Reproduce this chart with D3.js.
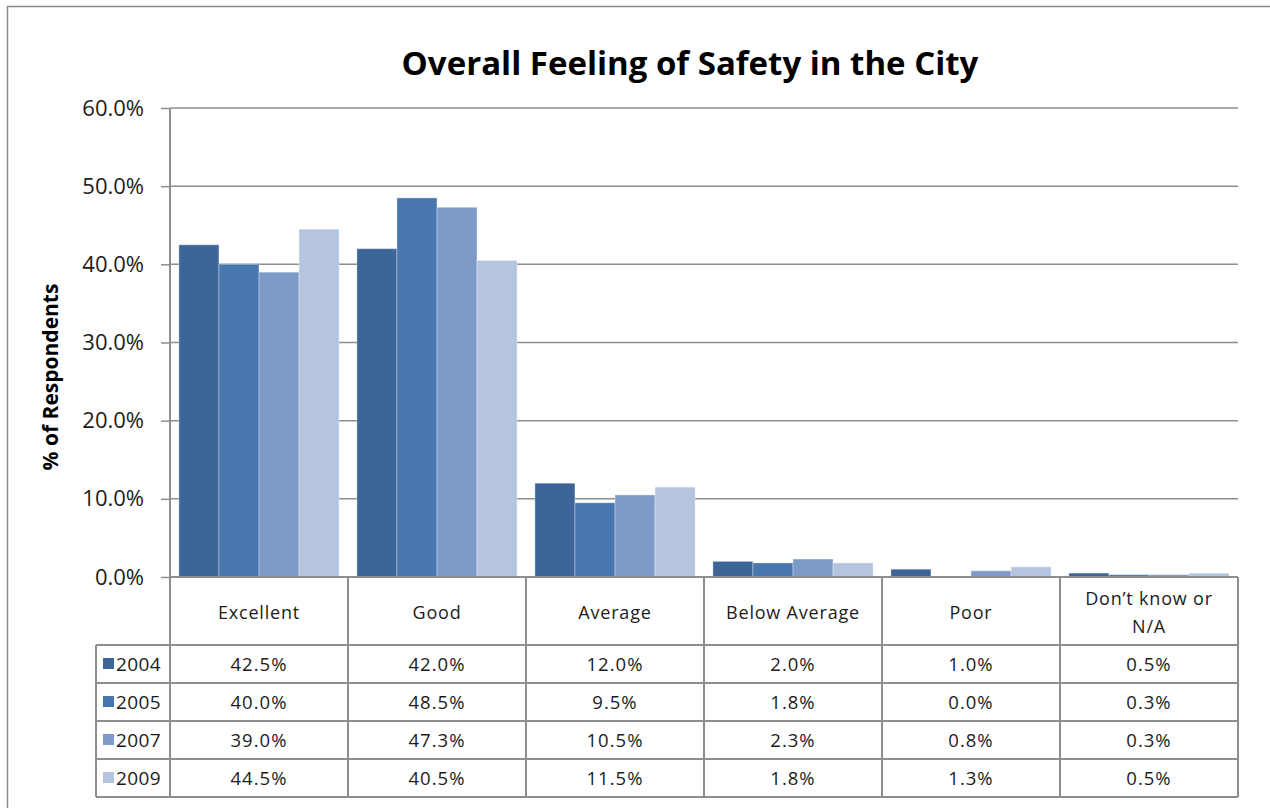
<!DOCTYPE html>
<html>
<head>
<meta charset="utf-8">
<script src="https://cdn.jsdelivr.net/npm/d3@7"></script>
<style>
  body { margin: 0; background: #fff; }
  svg { display: block; font-family: "Open Sans", Lato, sans-serif; }
</style>
</head>
<body>
<div id="chart"></div>
<script>
// data
var categories = ["Excellent", "Good", "Average", "Below Average", "Poor", "Don\u2019t know or N/A"];
var years = ["2004", "2005", "2007", "2009"];
var v2004 = [42.5, 42.0, 12.0, 2.0, 1.0, 0.5];
var v2005 = [40.0, 48.5, 9.5, 1.8, 0.0, 0.3];
var v2007 = [39.0, 47.3, 10.5, 2.3, 0.8, 0.3];
var v2009 = [44.5, 40.5, 11.5, 1.8, 1.3, 0.5];
var yTicks = [0, 10, 20, 30, 40, 50, 60];

var series = [v2004, v2005, v2007, v2009];
var colors = ["#3d6597", "#4877b0", "#7e9bc8", "#b5c4df"];

var width = 1270, height = 808;
var plot = { left: 170, right: 1238, top: 108, bottom: 577 };
var headerH = 68, rowH = 38, legendLeft = 96;
var gridColor = "#8e8e8e", textColor = "#1c1c1c";

var svg = d3.select("#chart").append("svg")
  .attr("width", width)
  .attr("height", height);

// chart border
svg.append("rect")
  .attr("x", 7.5).attr("y", 6.5)
  .attr("width", 1400).attr("height", 1000)
  .attr("fill", "none")
  .attr("stroke", "#8a8a8a")
  .attr("stroke-width", 1.5);

var x0 = d3.scaleBand().domain(categories).range([plot.left, plot.right]);
var bw = x0.bandwidth();
var x1 = d3.scaleBand().domain(years).range([bw * 0.05, bw * 0.95]);
var y = d3.scaleLinear().domain([0, 60]).range([plot.bottom, plot.top]);

// title
svg.append("text")
  .attr("x", 690).attr("y", 75)
  .attr("text-anchor", "middle")
  .attr("font-size", 33)
  .attr("font-weight", "bold")
  .attr("fill", "#000")
  .text("Overall Feeling of Safety in the City");

// y axis label
svg.append("text")
  .attr("transform", "translate(58,377) rotate(-90)")
  .attr("text-anchor", "middle")
  .attr("font-size", 21)
  .attr("font-weight", "bold")
  .attr("fill", "#000")
  .text("% of Respondents");

// gridlines
svg.append("g")
  .selectAll("line")
  .data(yTicks.filter(function (d) { return d > 0; }))
  .enter().append("line")
  .attr("x1", plot.left).attr("x2", plot.right)
  .attr("y1", function (d) { return y(d); })
  .attr("y2", function (d) { return y(d); })
  .attr("stroke", gridColor)
  .attr("stroke-width", 1.5);

// y axis
var yAxis = d3.axisLeft(y)
  .tickValues(yTicks)
  .tickSize(9)
  .tickPadding(17)
  .tickFormat(function (d) { return d.toFixed(1) + "%"; });

var gy = svg.append("g")
  .attr("transform", "translate(" + plot.left + ",0)")
  .call(yAxis);
gy.select(".domain").remove();
gy.selectAll(".tick line").attr("stroke", gridColor).attr("stroke-width", 1.5);
gy.selectAll(".tick text")
  .attr("font-size", 22)
  .attr("font-family", "'Open Sans', sans-serif")
  .attr("fill", textColor);

// bars
var groups = svg.append("g")
  .selectAll("g")
  .data(categories)
  .enter().append("g")
  .attr("transform", function (d) { return "translate(" + x0(d) + ",0)"; });

groups.selectAll("rect")
  .data(function (d, i) {
    return years.map(function (yr, j) { return { year: yr, value: series[j][i], k: j }; });
  })
  .enter().append("rect")
  .attr("x", function (d) { return x1(d.year); })
  .attr("width", x1.bandwidth())
  .attr("y", function (d) { return y(d.value); })
  .attr("height", function (d) { return y(0) - y(d.value); })
  .attr("fill", function (d) { return colors[d.k]; })
  .attr("stroke", "#ffffff")
  .attr("stroke-opacity", 0.35)
  .attr("stroke-width", 1);

// data table
var tableTop = plot.bottom;
var rowsTop = tableTop + headerH;
var tableBottom = rowsTop + rowH * years.length;
var table = svg.append("g");

// horizontal lines
table.append("line")
  .attr("x1", plot.left).attr("x2", plot.right)
  .attr("y1", tableTop).attr("y2", tableTop)
  .attr("stroke", gridColor).attr("stroke-width", 2);
d3.range(years.length + 1).forEach(function (i) {
  table.append("line")
    .attr("x1", legendLeft).attr("x2", plot.right)
    .attr("y1", rowsTop + i * rowH).attr("y2", rowsTop + i * rowH)
    .attr("stroke", gridColor).attr("stroke-width", 2);
});

// vertical lines
table.append("line")
  .attr("x1", plot.left).attr("x2", plot.left)
  .attr("y1", plot.top).attr("y2", tableBottom)
  .attr("stroke", gridColor).attr("stroke-width", 2);
table.append("line")
  .attr("x1", legendLeft).attr("x2", legendLeft)
  .attr("y1", rowsTop).attr("y2", tableBottom)
  .attr("stroke", gridColor).attr("stroke-width", 2);
categories.forEach(function (c) {
  var xr = x0(c) + bw;
  table.append("line")
    .attr("x1", xr).attr("x2", xr)
    .attr("y1", tableTop).attr("y2", tableBottom)
    .attr("stroke", gridColor).attr("stroke-width", 2);
});

// header labels
categories.forEach(function (c) {
  var t = table.append("text")
    .attr("x", x0(c) + bw / 2)
    .attr("text-anchor", "middle")
    .attr("font-size", 18)
    .attr("letter-spacing", 0.8)
    .attr("fill", textColor);
  if (c.indexOf(" or ") > 0) {
    var parts = c.split(" or ");
    t.append("tspan").attr("x", x0(c) + bw / 2).attr("y", tableTop + 28).text(parts[0] + " or");
    t.append("tspan").attr("x", x0(c) + bw / 2).attr("y", tableTop + 56).text(parts[1]);
  } else {
    t.attr("y", tableTop + 42).text(c);
  }
});

// rows
years.forEach(function (yr, j) {
  var cy = rowsTop + j * rowH + rowH / 2;
  table.append("rect")
    .attr("x", legendLeft + 7).attr("y", cy - 6)
    .attr("width", 11).attr("height", 11)
    .attr("fill", colors[j]);
  table.append("text")
    .attr("x", legendLeft + 20).attr("y", cy + 7)
    .attr("font-size", 19)
    .attr("letter-spacing", 0.4)
    .attr("fill", textColor)
    .text(yr);
  categories.forEach(function (c, i) {
    table.append("text")
      .attr("x", x0(c) + bw / 2).attr("y", cy + 7)
      .attr("text-anchor", "middle")
      .attr("font-size", 18.5)
      .attr("letter-spacing", 1)
      .attr("fill", textColor)
      .text(series[j][i].toFixed(1) + "%");
  });
});
</script>
</body>
</html>
